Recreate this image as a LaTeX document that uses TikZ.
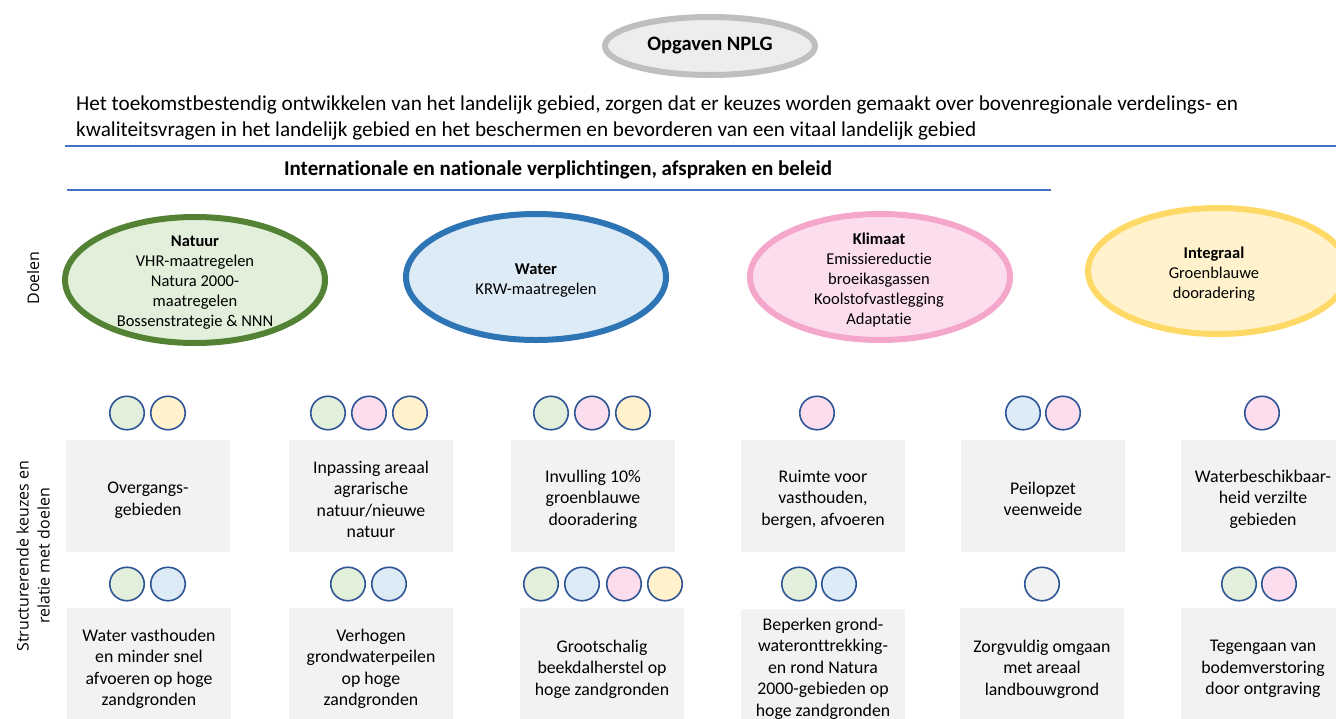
\documentclass[tikz,border=0pt]{standalone}
\usepackage{fontspec}
\setmainfont{Carlito}[Ligatures=NoCommon]
\newfontfamily\sidefont{Open Sans}
\usetikzlibrary{shapes.geometric}
\definecolor{lineblue}{HTML}{4472C4}
\definecolor{grayb}{HTML}{BFBFBF}
\definecolor{grayf}{HTML}{EDEDED}
\definecolor{natb}{HTML}{548235}
\definecolor{natf}{HTML}{E2EFDA}
\definecolor{watb}{HTML}{2E75B6}
\definecolor{watf}{HTML}{DDEBF7}
\definecolor{klib}{HTML}{F4A6CB}
\definecolor{klif}{HTML}{FCDDEE}
\definecolor{intb}{HTML}{FFD966}
\definecolor{intf}{HTML}{FFF2CC}
\definecolor{tagb}{HTML}{2F5597}
\definecolor{boxg}{HTML}{F2F2F2}
\tikzset{
  goal/.style={ellipse, line width=6pt, minimum width=260pt, minimum height=126pt, inner sep=0pt},
  goaltext/.style={align=center, font=\fontsize{16.5}{20}\selectfont, inner sep=0pt},
  tag/.style={ellipse, draw=tagb, line width=1.6pt, minimum width=34.5pt, minimum height=33.5pt, inner sep=0pt},
  choice/.style={rectangle, fill=boxg, minimum width=164pt, minimum height=112pt, inner sep=0pt},
  choicelow/.style={choice, minimum height=116pt},
  choicetext/.style={align=center, inner sep=0pt, font=\fontsize{17.8}{21.5}\selectfont},
  sidelabel/.style={rotate=90, align=center, inner sep=0pt, font=\sidefont\fontsize{16}{21}\selectfont},
  rulebar/.style={draw=lineblue, line width=2.5pt},
  gtag/.style={tag, fill=natf},
  btag/.style={tag, fill=watf},
  ptag/.style={tag, fill=klif},
  ytag/.style={tag, fill=intf},
  etag/.style={tag, fill=boxg},
}
\begin{document}
\begin{tikzpicture}[x=1pt,y=-1pt]
\clip (0,0) rectangle (1336,718);
\fill[white] (0,0) rectangle (1336,718);

% title
\node[ellipse, draw=grayb, fill=grayf, line width=6pt, minimum width=210pt, minimum height=58pt, inner sep=0pt,
      font=\bfseries\fontsize{20.5}{24}\selectfont] (opg) at (710,46) {\raisebox{-1.5pt}{Opgaven NPLG}};

\node[anchor=base west, inner sep=0pt, font=\fontsize{21.2}{26}\selectfont] (par1) at (76,110)
  {Het toekomstbestendig ontwikkelen van het landelijk gebied, zorgen dat er keuzes worden gemaakt over bovenregionale verdelings- en};
\node[anchor=base west, inner sep=0pt, font=\fontsize{21.2}{26}\selectfont] (par2) at (76,136)
  {kwaliteitsvragen in het landelijk gebied en het beschermen en bevorderen van een vitaal landelijk gebied};

\coordinate (r1a) at (65,146);
\coordinate (r1b) at (1336,146);
\draw[rulebar] (r1a) -- (r1b);
\node[anchor=base, inner sep=0pt, font=\bfseries\fontsize{21}{24}\selectfont] (intl) at (558,175)
  {Internationale en nationale verplichtingen, afspraken en beleid};
\coordinate (r2a) at (67,190);
\coordinate (r2b) at (1051,190);
\draw[rulebar] (r2a) -- (r2b);

% side labels
\node[sidelabel] (doel) at (33,278) {Doelen};
\node[sidelabel] (struct) at (33,556) {Structurerende keuzes en\\relatie met doelen};

% goals
\node[goal, draw=natb, fill=natf] (nat) at (195,280) {};
\node[goaltext] (natT) at (195,283) {\textbf{Natuur}\\VHR-maatregelen\\Natura 2000-\\maatregelen\\Bossenstrategie \& NNN};
\node[goal, draw=watb, fill=watf] (wat) at (536,277) {};
\node[goaltext] (watT) at (536,281) {\textbf{Water}\\KRW-maatregelen};
\node[goal, draw=klib, fill=klif] (kli) at (880,277) {};
\node[goaltext] (kliT) at (879,280) {\textbf{Klimaat}\\Emissiereductie\\broeikasgassen\\Koolstofvastlegging\\Adaptatie};
\node[goal, draw=intb, fill=intf] (int) at (1218,271) {};
\node[goaltext] (intT) at (1214,274) {\textbf{Integraal}\\Groenblauwe\\dooradering};

% row 1 tags
\node[gtag] (a1) at (127,413) {};
\node[ytag] (a2) at (168,413) {};
\node[gtag] (b1) at (328,413) {};
\node[ptag] (b2) at (369,413) {};
\node[ytag] (b3) at (410,413) {};
\node[gtag] (c1) at (551,413) {};
\node[ptag] (c2) at (592,413) {};
\node[ytag] (c3) at (633,413) {};
\node[ptag] (d1) at (817,413) {};
\node[btag] (e1) at (1023,413) {};
\node[ptag] (e2) at (1063,413) {};
\node[ptag] (f1) at (1262,413) {};

% row 1 boxes
\node[choice] (k1) at (148,496) {};
\node[choice] (k2) at (371,496) {};
\node[choice] (k3) at (593,496) {};
\node[choice] (k4) at (823,496) {};
\node[choice] (k5) at (1043,496) {};
\node[choice] (k6) at (1263,496) {};
\node[choicetext] (k1t) at ([yshift=-4pt]k1.center) {Overgangs-\\gebieden};
\node[choicetext] (k2t) at ([yshift=-3.5pt]k2.center) {Inpassing areaal\\agrarische\\natuur/nieuwe\\natuur};
\node[choicetext] (k3t) at ([yshift=-3pt]k3.center) {Invulling 10\%\\groenblauwe\\dooradering};
\node[choicetext] (k4t) at ([yshift=-3pt]k4.center) {Ruimte voor\\vasthouden,\\bergen, afvoeren};
\node[choicetext] (k5t) at ([yshift=-3pt]k5.center) {Peilopzet\\veenweide};
\node[choicetext] (k6t) at ([yshift=-3pt]k6.center) {Waterbeschikbaar-\\heid verzilte\\gebieden};

% row 2 tags
\node[gtag] (g1) at (127,584) {};
\node[btag] (g2) at (168,584) {};
\node[gtag] (h1) at (348,584) {};
\node[btag] (h2) at (389,584) {};
\node[gtag] (i1) at (541,584) {};
\node[btag] (i2) at (582,584) {};
\node[ptag] (i3) at (624,584) {};
\node[ytag] (i4) at (665,584) {};
\node[gtag] (j1) at (799,584) {};
\node[btag] (j2) at (839,584) {};
\node[etag] (m1) at (1042,584) {};
\node[gtag] (n1) at (1239,584) {};
\node[ptag] (n2) at (1279,584) {};

% row 2 boxes
\node[choicelow] (q1) at (149,666) {};
\node[choicelow] (q2) at (371,666) {};
\node[choicelow] (q3) at (602,666) {};
\node[choicelow] (q4) at (823,667) {};
\node[choicelow] (q5) at (1042,666) {};
\node[choicelow] (q6) at (1263,666) {};
\node[choicetext] (q1t) at ([yshift=-3pt]q1.center) {Water vasthouden\\en minder snel\\afvoeren op hoge\\zandgronden};
\node[choicetext] (q2t) at ([yshift=-3pt]q2.center) {Verhogen\\grondwaterpeilen\\op hoge\\zandgronden};
\node[choicetext] (q3t) at ([yshift=-3pt]q3.center) {Grootschalig\\beekdalherstel op\\hoge zandgronden};
\node[choicetext] (q4t) at ([yshift=-1.5pt]q4.center) {Beperken grond-\\wateronttrekking-\\en rond Natura\\2000-gebieden op\\hoge zandgronden};
\node[choicetext] (q5t) at ([yshift=-3pt]q5.center) {Zorgvuldig omgaan\\met areaal\\landbouwgrond};
\node[choicetext] (q6t) at ([yshift=-3pt]q6.center) {Tegengaan van\\bodemverstoring\\door ontgraving};
\end{tikzpicture}
\end{document}
